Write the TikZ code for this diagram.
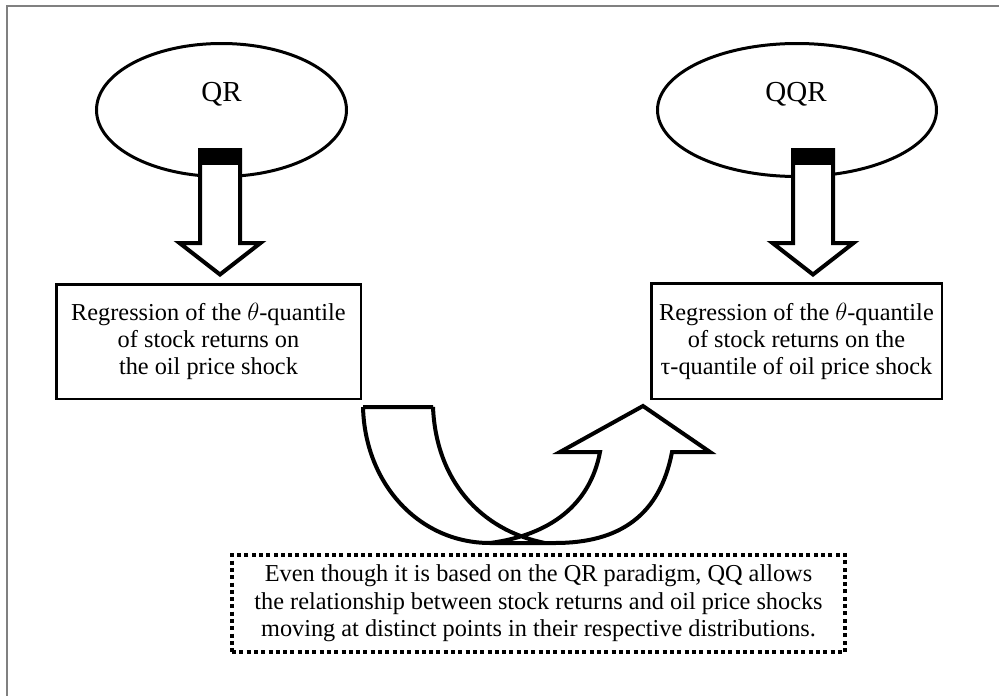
\documentclass[tikz,border=0pt]{standalone}
\usepackage{fontspec}
\setmainfont{Liberation Serif}
\usetikzlibrary{shapes.geometric}
\begin{document}
\begin{tikzpicture}[x=1pt,y=-1pt,
  ell/.style={ellipse, draw, line width=3pt, inner sep=0pt, minimum width=250pt, minimum height=133pt},
  elltext/.style={font=\fontsize{29}{32}\selectfont, inner sep=0pt},
  regbox/.style={draw, line width=2.5pt, align=center, inner sep=0pt, font=\fontsize{24.3}{27}\selectfont},
  notebox/.style={draw, line width=3.5pt, dash pattern=on 4pt off 3.3pt, align=center, inner sep=0pt, font=\fontsize{24.3}{27.5}\selectfont},
  blockarrow/.style={draw, line width=4pt, line join=miter, miter limit=10, fill=white},
  capfill/.style={draw, fill=black, line width=4pt}
]
\useasboundingbox (0,0) rectangle (999,696);
\fill[white] (0,0) rectangle (999,696);
\draw[gray, line width=2pt] (6.5,696) -- (6.5,5.5) -- (999,5.5);

% ellipses
\node[ell] (qr) at (221.5,110) {};
\node[elltext] (qrt) at (221.5,94) {QR};
\node[ell, minimum width=279pt] (qqr) at (797,110) {};
\node[elltext] (qqrt) at (796,94) {QQR};

% block arrows
\foreach \cx in {220,813} {
  \begin{scope}[shift={(\cx,0)}]
    \draw[blockarrow] (-20,150) -- (-20,243) -- (-40.5,243) -- (0,274.5) -- (40.5,243) -- (20,243) -- (20,150) -- cycle;
    \draw[capfill] (-20,150) rectangle (20,163);
  \end{scope}
}

% boxes
\node[regbox, minimum width=304.5pt, minimum height=114.5pt] (lbox) at (208.5,341.5)
  {Regression of the $\theta$-quantile\\of stock returns on\\the oil price shock};
\node[regbox, minimum width=290.5pt, minimum height=115.5pt] (rbox) at (796.5,341)
  {Regression of the $\theta$-quantile\\of stock returns on the\\τ-quantile of oil price shock};

% curved U-turn arrow
\draw[line width=4pt, line join=miter, miter limit=10]
  (363,407) -- (433,407)
  (433,407) .. controls (436,480) and (480,530) .. (545,543)
  (363,407) .. controls (365,485) and (420,543) .. (490,543)
  -- (555,543)
  .. controls (620,543) and (660,515) .. (672,452)
  -- (710,452) -- (643,406) -- (560,452) -- (600,452)
  .. controls (590,505) and (550,535) .. (490,543);

% note box
\node[notebox, minimum width=613pt, minimum height=97pt] (note) at (538.5,603.5)
  {Even though it is based on the QR paradigm, QQ allows\\the relationship between stock returns and oil price shocks\\moving at distinct points in their respective distributions.};
\end{tikzpicture}
\end{document}
